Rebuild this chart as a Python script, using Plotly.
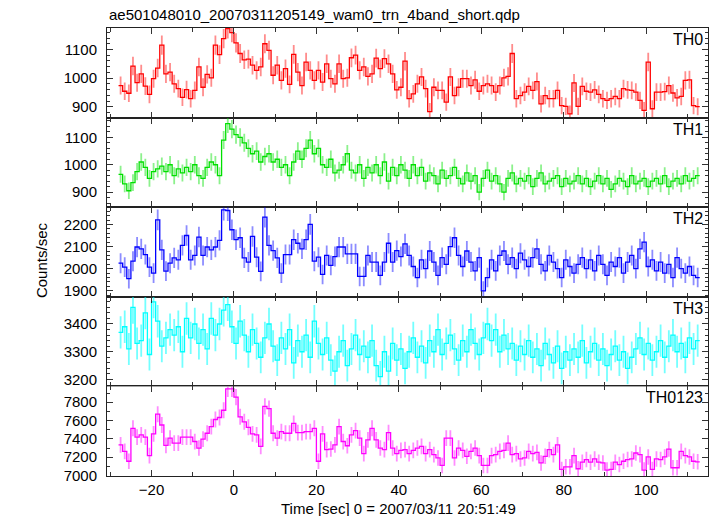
import numpy as np
import plotly.graph_objects as go

# ---------------- data (1 s bins, centres in seconds) ----------------
time_centers = np.arange(-27.5, 113.0, 1.0)

th0 = [974, 954, 947, 1042, 984, 1015, 972, 943, 998, 1035,
       1115, 1015, 1021, 980, 963, 933, 960, 928, 957, 1039,
       968, 1013, 1001, 1115, 1082, 1138, 1173, 1159, 1123, 1086,
       1064, 1066, 1045, 1027, 1039, 1120, 1097, 1010, 1045, 992,
       1033, 978, 1083, 1021, 974, 1056, 1027, 992, 1027, 986,
       1050, 998, 980, 1050, 998, 1001, 1071, 1080, 1027, 1039,
       1006, 1015, 1070, 1033, 1068, 1050, 1015, 959, 968, 1059,
       928, 945, 980, 1004, 963, 883, 968, 957, 957, 916,
       1004, 939, 968, 998, 998, 974, 994, 954, 974, 980,
       974, 951, 974, 1001, 1006, 1086, 928, 939, 951, 971,
       957, 988, 910, 939, 928, 928, 957, 904, 901, 875,
       983, 901, 971, 954, 951, 959, 943, 928, 922, 928,
       936, 928, 963, 959, 957, 951, 922, 887, 1056, 893,
       951, 951, 953, 974, 948, 931, 936, 992, 994, 904, 900]

th1 = [965, 930, 905, 935, 975, 1010, 990, 950, 975, 985,
       995, 975, 1000, 960, 985, 970, 990, 975, 1000, 960,
       950, 990, 1010, 1000, 960, 1090, 1150, 1130, 1110, 1100,
       1080, 1060, 1040, 1050, 1010, 1030, 1040, 1010, 1020, 990,
       1000, 960, 1010, 1050, 1020, 1060, 1090, 1040, 1060, 1000,
       990, 1020, 970, 980, 1000, 1040, 980, 970, 1000, 950,
       990, 970, 1000, 960, 1010, 940, 990, 960, 1000, 980,
       950, 1000, 960, 990, 940, 970, 960, 930, 980, 950,
       960, 990, 950, 930, 970, 940, 960, 900, 950, 980,
       940, 960, 930, 900, 950, 970, 930, 950, 940, 960,
       920, 950, 970, 930, 940, 950, 960, 920, 950, 930,
       940, 960, 930, 950, 920, 940, 960, 930, 950, 910,
       930, 950, 940, 920, 960, 930, 940, 950, 920, 940,
       950, 930, 960, 920, 940, 950, 930, 960, 940, 950, 960]

th2 = [2025, 2007, 1955, 2034, 2098, 2090, 2064, 2007, 1980, 2221,
       2085, 1989, 2025, 2049, 2040, 2105, 2150, 2040, 2060, 2143,
       2060, 2098, 2085, 2098, 2128, 2266, 2263, 2176, 2131, 2140,
       2049, 2030, 2146, 2052, 1988, 2233, 2105, 2082, 2049, 1980,
       2064, 2064, 2131, 2115, 2090, 2131, 2200, 2034, 2052, 1974,
       2060, 2015, 2055, 2098, 2098, 2067, 2067, 2067, 1965, 1965,
       2060, 2030, 2030, 1970, 2030, 2115, 2030, 2082, 2055, 2112,
       2060, 2010, 1960, 2040, 2000, 2080, 2030, 1970, 2050, 2020,
       2100, 2140, 2060, 2010, 2080, 2030, 1990, 2050, 1900, 1960,
       2040, 1990, 2060, 2080, 2020, 2050, 2000, 2070, 2040, 2010,
       2050, 2090, 2020, 1990, 2060, 2030, 2000, 1960, 2040, 2010,
       1980, 2020, 2050, 2000, 2040, 1990, 2060, 2020, 1970, 2030,
       2010, 2050, 1980, 2030, 2060, 2000, 2090, 2120, 2010, 2040,
       1990, 2030, 1980, 2020, 1960, 2050, 2000, 1980, 2010, 1970, 1960]

th3 = [3370, 3390, 3310, 3460, 3330, 3340, 3440, 3290, 3480, 3410,
       3320, 3350, 3380, 3360, 3390, 3300, 3420, 3350, 3400, 3330,
       3380, 3310, 3420, 3360, 3400, 3450, 3470, 3390, 3330, 3410,
       3360, 3300, 3380, 3330, 3280, 3350, 3400, 3320, 3270, 3350,
       3310, 3380, 3260, 3340, 3300, 3360, 3280, 3410, 3330, 3290,
       3350, 3270, 3230, 3300, 3340, 3250, 3310, 3360, 3290, 3320,
       3280, 3340, 3250, 3210, 3300, 3230, 3330, 3270, 3310, 3240,
       3300, 3350, 3280, 3320, 3260, 3340, 3300, 3380, 3290, 3330,
       3360, 3310, 3270, 3340, 3300, 3380, 3330, 3290, 3350, 3400,
       3340, 3380, 3300, 3360, 3310, 3330, 3270, 3320, 3290, 3340,
       3280, 3310, 3250, 3330, 3290, 3260, 3320, 3240, 3300, 3270,
       3310, 3280, 3340, 3260, 3300, 3330, 3270, 3310, 3250, 3290,
       3320, 3270, 3300, 3240, 3280, 3310, 3350, 3290, 3330, 3270,
       3300, 3340, 3280, 3320, 3360, 3300, 3330, 3280, 3350, 3310, 3340]

th0123 = [7335, 7264, 7156, 7515, 7418, 7443, 7418, 7217, 7454, 7669,
          7551, 7328, 7407, 7353, 7353, 7418, 7418, 7418, 7371, 7300,
          7396, 7461, 7533, 7611, 7633, 7712, 7945, 7945, 7855, 7640,
          7586, 7526, 7454, 7443, 7318, 7755, 7730, 7461, 7407, 7479,
          7461, 7461, 7568, 7468, 7468, 7479, 7479, 7515, 7156, 7454,
          7282, 7289, 7335, 7533, 7371, 7325, 7443, 7490, 7407, 7239,
          7389, 7515, 7389, 7300, 7282, 7468, 7300, 7239, 7275, 7282,
          7239, 7275, 7300, 7318, 7239, 7282, 7228, 7192, 7110, 7407,
          7407, 7192, 7300, 7275, 7210, 7264, 7300, 7217, 7110, 7110,
          7217, 7228, 7264, 7275, 7353, 7228, 7239, 7181, 7192, 7264,
          7239, 7253, 7138, 7210, 7282, 7228, 7335, 7067, 7095, 7095,
          7217, 7074, 7146, 7174, 7146, 7181, 7146, 7138, 7060, 7067,
          7146, 7120, 7156, 7174, 7181, 7246, 7228, 7060, 7203, 7067,
          7181, 7174, 7203, 7289, 7085, 7085, 7264, 7217, 7203, 7156, 7150]

panel_names = ["TH0", "TH1", "TH2", "TH3", "TH0123"]
panel_values = [th0, th1, th2, th3, th0123]
panel_colors = ["#ff0000", "#00e000", "#0000ff", "#00ffff", "#ff00ff"]
panel_err_colors = ["rgba(255,0,0,0.45)", "rgba(0,224,0,0.45)", "rgba(0,0,255,0.45)",
                    "rgba(0,255,255,0.55)", "rgba(255,0,255,0.45)"]
panel_ranges = [[862, 1175], [845, 1172], [1873, 2278], [3175, 3498], [6995, 7972]]
panel_dtick = [100, 100, 100, 100, 200]
panel_minor = [20, 20, 20, 20, 100]

title_text = "ae501048010_20070311205149_wam0_trn_4band_short.qdp"
x_title = "Time [sec] 0 = 2007/03/11 20:51:49"
y_title = "Counts/sec"
x_range = [-30.8, 115.0]

FONT = "Liberation Sans, Arial, Helvetica, sans-serif"

fig = go.Figure()
n = len(panel_names)
annotations = []
for i in range(n):
    k = i + 1
    xa = "x" if k == 1 else f"x{k}"
    ya = "y" if k == 1 else f"y{k}"
    v = np.array(panel_values[i], dtype=float)
    err = np.sqrt(v)
    # error bars at bin centres
    fig.add_trace(go.Scatter(
        x=time_centers, y=v, mode="markers",
        marker=dict(size=1, color="rgba(0,0,0,0)"),
        error_y=dict(type="data", array=err, color=panel_err_colors[i],
                     thickness=1.8, width=0),
        xaxis=xa, yaxis=ya, showlegend=False, hoverinfo="skip"))
    # histogram steps
    edges = np.append(time_centers - 0.5, time_centers[-1] + 0.5)
    ystep = np.append(v, v[-1])
    fig.add_trace(go.Scatter(
        x=edges, y=ystep, mode="lines", line=dict(shape="hv", color=panel_colors[i], width=1.3),
        xaxis=xa, yaxis=ya, showlegend=False, hoverinfo="skip"))

    top = 1 - i * 0.2
    bot = top - 0.2
    axis_common = dict(showline=True, linecolor="#222", linewidth=1, mirror="allticks",
                       ticks="inside", tickcolor="#333", showgrid=False, zeroline=False)
    fig.layout[("xaxis" if k == 1 else f"xaxis{k}")] = dict(
        domain=[0, 1], range=x_range, anchor=ya, tick0=0, dtick=20, ticklen=6, tickwidth=1,
        minor=dict(dtick=10, ticklen=4, ticks="inside", tickcolor="#333"),
        showticklabels=(k == n), tickfont=dict(family=FONT, size=15, color="black"),
        **axis_common)
    fig.layout[("yaxis" if k == 1 else f"yaxis{k}")] = dict(
        domain=[max(bot, 0), top], range=panel_ranges[i], anchor=xa, dtick=panel_dtick[i],
        ticklen=6, tickwidth=1,
        minor=dict(dtick=panel_minor[i], ticklen=3, ticks="inside", tickcolor="#333"),
        tickfont=dict(family=FONT, size=15, color="black"), ticklabelstandoff=6,
        **axis_common)
    annotations.append(dict(
        text=panel_names[i], xref="paper", yref="paper", x=1, y=top,
        xanchor="right", yanchor="top", xshift=-3, yshift=-1, showarrow=False,
        font=dict(family=FONT, size=16, color="black")))

annotations.append(dict(text=title_text, xref="paper", yref="paper", x=0, y=1,
                        xanchor="left", yanchor="bottom", yshift=3, showarrow=False,
                        font=dict(family=FONT, size=15, color="black")))
annotations.append(dict(text=x_title, xref="paper", yref="paper", x=0.485, y=0,
                        xanchor="center", yanchor="top", yshift=-22, showarrow=False,
                        font=dict(family=FONT, size=15, color="black")))
annotations.append(dict(text=y_title, xref="paper", yref="paper", x=0, y=0.482,
                        xanchor="center", yanchor="middle", xshift=-66, textangle=-90,
                        showarrow=False, font=dict(family=FONT, size=15, color="black")))

fig.update_layout(width=717, height=516, margin=dict(l=107, r=9, t=28, b=40),
                  paper_bgcolor="white", plot_bgcolor="white", hovermode=False,
                  annotations=annotations, font=dict(family=FONT, size=15, color="black"))

fig.write_html("out.html", config={"displayModeBar": False, "staticPlot": True},
               post_script="document.body.style.margin='0px';document.body.style.overflow='hidden';")
